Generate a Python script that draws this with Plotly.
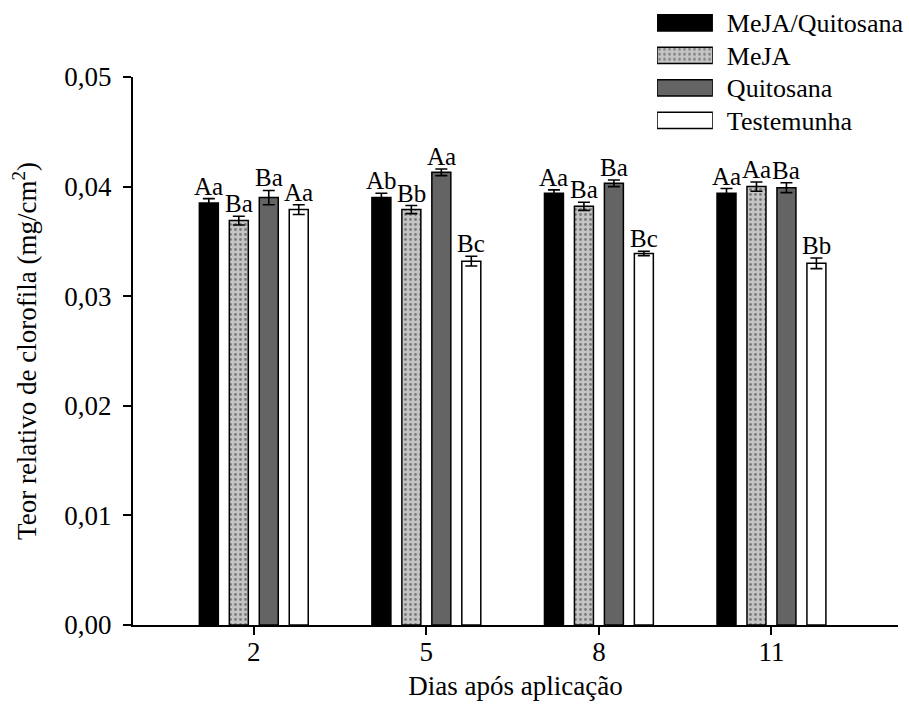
import plotly.graph_objects as go

days = [2, 5, 8, 11]
series = ["MeJA/Quitosana", "MeJA", "Quitosana", "Testemunha"]
values = {
    "MeJA/Quitosana": [0.0385, 0.0390, 0.0394, 0.0394],
    "MeJA":           [0.0369, 0.0379, 0.0382, 0.0400],
    "Quitosana":      [0.0390, 0.0413, 0.0403, 0.0399],
    "Testemunha":     [0.0379, 0.0332, 0.0339, 0.0330],
}
errors = {
    "MeJA/Quitosana": [0.00040, 0.00040, 0.00030, 0.00042],
    "MeJA":           [0.00040, 0.00037, 0.00037, 0.00042],
    "Quitosana":      [0.00065, 0.00030, 0.00030, 0.00045],
    "Testemunha":     [0.00045, 0.00045, 0.00020, 0.00048],
}
letters = {
    "MeJA/Quitosana": ["Aa", "Ab", "Aa", "Aa"],
    "MeJA":           ["Ba", "Bb", "Ba", "Aa"],
    "Quitosana":      ["Ba", "Aa", "Ba", "Ba"],
    "Testemunha":     ["Aa", "Bc", "Bc", "Bb"],
}

FONT = "Liberation Serif"
styles = {
    "MeJA/Quitosana": dict(color="#000000", pattern=dict(shape="")),
    "MeJA": dict(color="#c4c4c4", pattern=dict(shape=".", fgcolor="#303030",
                                               size=5, solidity=0.25, fillmode="overlay")),
    "Quitosana": dict(color="#646464", pattern=dict(shape="")),
    "Testemunha": dict(color="#ffffff", pattern=dict(shape="")),
}

W = 0.33
PITCH = 0.521

fig = go.Figure()
annotations = []
for k, s in enumerate(series):
    center = (k - 1.5) * PITCH
    st = styles[s]
    fig.add_trace(go.Bar(
        x=days, y=values[s], name=s, width=W, offset=center - W / 2,
        marker=dict(color=st["color"], pattern=st["pattern"],
                    line=dict(color="#000000", width=1.5)),
        error_y=dict(type="data", array=errors[s], visible=True,
                     color="#000000", thickness=1.6, width=6),
        showlegend=False, xaxis="x", yaxis="y",
    ))
    for d, v, e, t in zip(days, values[s], errors[s], letters[s]):
        annotations.append(dict(
            x=d + center, y=v + e, xref="x", yref="y", text=t,
            showarrow=False, yanchor="bottom", yshift=-3,
            font=dict(family=FONT, size=25, color="#000000"),
        ))

# legend drawn as a small horizontal bar panel
fig.add_trace(go.Bar(
    y=series, x=[1] * len(series), orientation="h", width=0.5,
    marker=dict(color=[styles[s]["color"] for s in series],
                pattern=dict(shape=["", ".", "", ""], fgcolor="#303030",
                             size=5, solidity=0.25, fillmode="overlay"),
                line=dict(color="#000000", width=1.5)),
    showlegend=False, xaxis="x2", yaxis="y2", hoverinfo="skip",
))

fig.update_layout(
    width=909, height=704,
    margin=dict(l=133, r=11, t=0, b=79, autoexpand=False),
    paper_bgcolor="white", plot_bgcolor="white",
    separators=",.",
    font=dict(family=FONT, size=27, color="#000000"),
    barmode="overlay",
    annotations=annotations,
    xaxis=dict(
        range=[-0.1, 13.2], tickvals=days, ticktext=[str(d) for d in days],
        showgrid=False, zeroline=False, showline=True, linecolor="#000000",
        linewidth=2, ticks="outside", ticklen=8, tickwidth=2, tickcolor="#000000",
        tickfont=dict(family=FONT, size=27), ticklabelstandoff=-6,
        title=dict(text="Dias após aplicação", standoff=10,
                   font=dict(family=FONT, size=27)),
        domain=[0, 1], anchor="y", automargin=False,
    ),
    yaxis=dict(
        range=[0, 0.05], dtick=0.01, tickformat=".2f",
        showgrid=False, zeroline=False, showline=True, linecolor="#000000",
        linewidth=2, ticks="outside", ticklen=8, tickwidth=2, tickcolor="#000000",
        tickfont=dict(family=FONT, size=27), ticklabelstandoff=6,
        title=dict(text="Teor relativo de clorofila (mg/cm<sup>2</sup>)", standoff=20,
                   font=dict(family=FONT, size=27)),
        domain=[0, 0.8768], anchor="x", automargin=False,
    ),
    xaxis2=dict(domain=[0.685, 0.758], range=[0, 1], visible=False,
                anchor="y2", fixedrange=True, automargin=False),
    yaxis2=dict(domain=[0.7812, 0.9892], anchor="x2", side="right",
                autorange="reversed", showgrid=False, zeroline=False,
                showline=False, ticks="", ticklabelstandoff=13, automargin=False,
                tickfont=dict(family=FONT, size=26)),
)

fig.write_html("out.html")
